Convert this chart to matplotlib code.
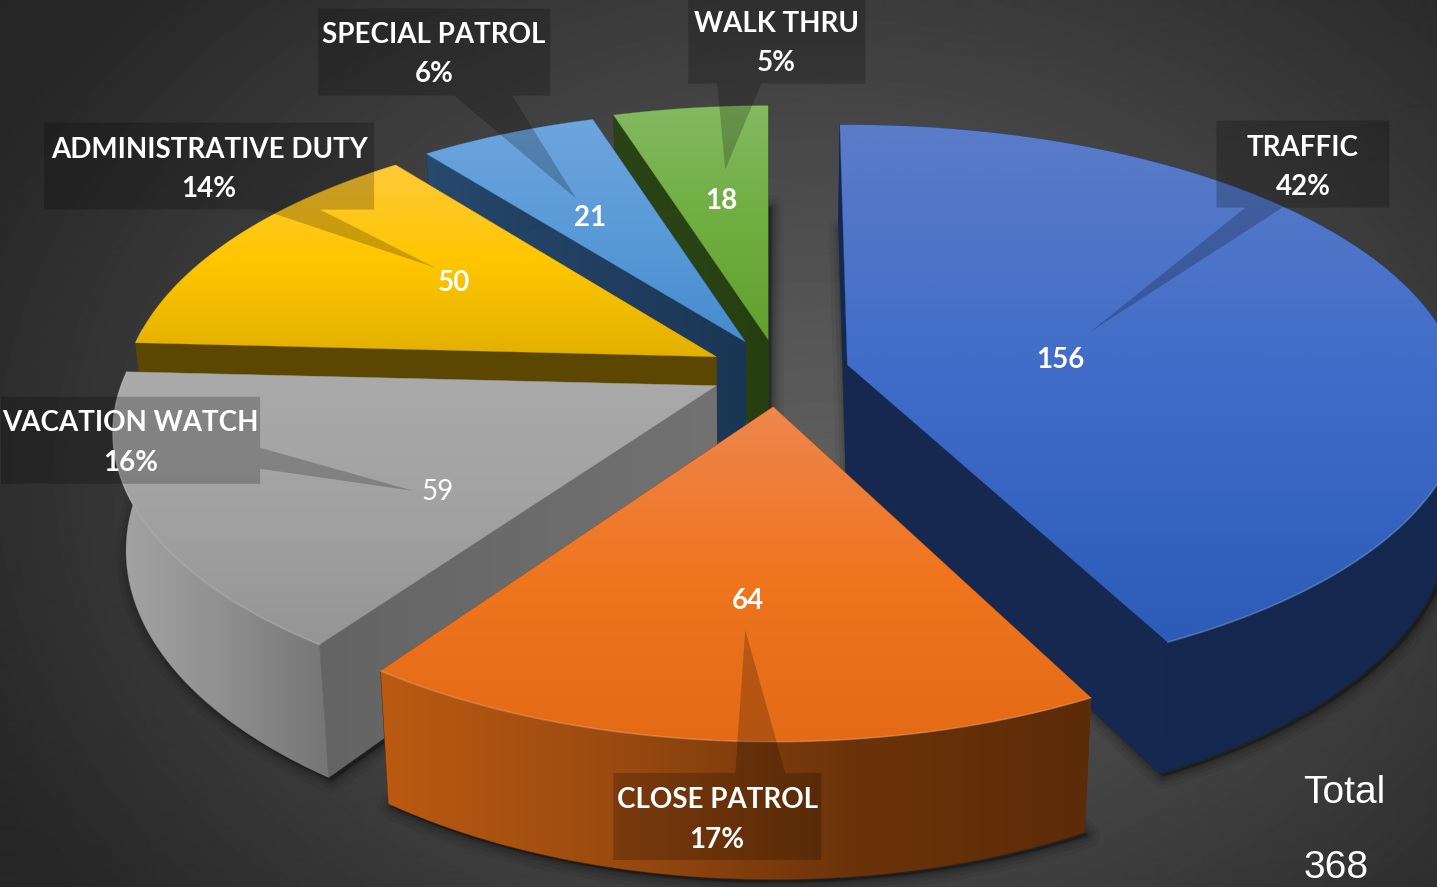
import numpy as np
import matplotlib
matplotlib.use("Agg")
import matplotlib.pyplot as plt
from matplotlib.colors import to_rgb
from matplotlib.patches import Polygon

# ---------- data ----------
categories = ["TRAFFIC", "CLOSE PATROL", "VACATION WATCH",
              "ADMINISTRATIVE DUTY", "SPECIAL PATROL", "WALK THRU"]
values = [156, 64, 59, 50, 21, 18]
percent_labels = ["42%", "17%", "16%", "14%", "6%", "5%"]
total_title = "Total"
total_value = "368"

# ---------- layout / style ----------
W, H = 1437, 887
APEX = [(847, 365), (773, 407), (716, 386), (716, 357), (745, 342), (768, 340)]
RX = [1.03, 0.995, 1.005, 0.99, 0.985, 1.0]
RY = [0.978, 1.0, 0.98, 0.985, 0.965, 0.975]
K = [0.14, 0.165, 0.165, 0.165, 0.165, 0.165]
START_PAD = [0.8, 0, 0, 0, 0, 0]
A, B, DEPTH, VANISH_X, SHRINK = 592.0, 279.6, 115.0, 770.0, 0.98
TOP_GRAD = [["#5b7cc8", "#3f6cc8", "#2c5cb8"], ["#ee874f", "#f0751f", "#e46a16"],
            ["#aaaaaa", "#a2a2a2", "#959595"], ["#ffc93a", "#ffc600", "#e2b000"],
            ["#6ea5dd", "#5a9ad8", "#478ccf"], ["#84b962", "#6fae40", "#62a02f"]]
WALL_GRAD = [["#14294f", "#14284f"], ["#bb5a12", "#9a4a10", "#6b330a", "#5c2b08"],
             ["#a5a5a5", "#909090", "#757575"], ["#5c4700", "#5c4700"],
             ["#284a6e", "#1d3a5b"], ["#2a4317", "#26400f"]]
CUT_GRAD = [["#17294f", "#15284f"], ["#5e2c08", "#5e2c08"], ["#646464", "#727272"],
            ["#5c4700", "#5c4700"], ["#284a6e", "#1a3655"], ["#2d4719", "#253f10"]]
BOXES = [(1216, 121, 1389, 208), (613, 773, 821, 860), (1, 397, 260, 484),
         (44, 123, 374, 210), (318, 9, 550, 96), (688, 0, 865, 84)]
# pointer: the two base points on the box edge, then the tip
POINTERS = [[(1282, 208), (1245, 208), (1090, 332)], [(785, 773), (735, 773), (745, 630)],
            [(260, 448), (260, 469), (413, 491)], [(320, 210), (262, 210), (435, 268)],
            [(512, 96), (454, 96), (576, 199)], [(761, 84), (717, 84), (725, 170)]]
SIDE = ["bottom", "top", "right", "bottom", "bottom", "bottom"]
VALUE_POS = [(1060, 360), (748, 601), (437, 492), (454, 283), (590, 218), (721, 201)]
VALUE_WEIGHT = ["bold", "bold", "normal", "bold", "bold", "bold"]
LINE_Y = [(148, 187), (800, 840), (423, 463), (150, 189), (35, 74), (24, 63)]
FONT = ["Lato", "DejaVu Sans"]
LABEL_SIZE = 20

fig = plt.figure(figsize=((W + 0.5) / 100, (H + 0.5) / 100), dpi=100)
ax = fig.add_axes([0, 0, 1, 1])
ax.set_xlim(0, W)
ax.set_ylim(H, 0)
ax.axis("off")


def ramp(colors, n=256):
    c = np.array([to_rgb(x) for x in colors])
    t = np.linspace(0, 1, n)
    p = np.linspace(0, 1, len(c))
    return np.stack([np.interp(t, p, c[:, i]) for i in range(3)], axis=-1)


def fill_gradient(pts, colors, vertical, z):
    pts = np.asarray(pts)
    x0, y0 = pts.min(axis=0)
    x1, y1 = pts.max(axis=0)
    if x1 - x0 < 0.5 or y1 - y0 < 0.5:
        return
    g = ramp(colors)
    img = g[:, None, :] if vertical else g[None, :, :]
    im = ax.imshow(img, extent=(x0, x1, y1, y0), aspect="auto", zorder=z,
                   interpolation="bilinear")
    im.set_clip_path(Polygon(pts, closed=True, transform=ax.transData))
    ax.add_patch(Polygon(pts, closed=True, fc="none", ec=colors[-1], lw=0.4, zorder=z, alpha=0.6))


# background
yy, xx = np.mgrid[0:H, 0:W]
r = np.sqrt(((xx - 820) / 850) ** 2 + ((yy - 470) / 650) ** 2)
v = np.clip(0x5e - 0x32 * r ** 1.2, 0x26, 255) / 255
ax.imshow(v, cmap="gray", vmin=0, vmax=1, extent=(0, W, H, 0), aspect="auto", zorder=0)
ax.set_xlim(0, W)
ax.set_ylim(H, 0)

# slice geometry from the values
fractions = np.array(values, dtype=float) / sum(values)
edges = np.concatenate([[0], np.cumsum(fractions)]) * 360.0


def project(i, deg):
    t = np.radians(deg)
    X, Y = np.sin(t), np.cos(t)
    w = 1 + K[i] * Y
    sx = APEX[i][0] + RX[i] * A * X / w
    sy = APEX[i][1] - RY[i] * B * Y / w
    return np.column_stack([sx, sy]), w


def drop(i, pts, w):
    out = np.array(pts, dtype=float)
    out[:, 0] = VANISH_X + (out[:, 0] - VANISH_X) * SHRINK
    out[:, 1] = out[:, 1] + DEPTH / w
    return out


geom = []
for i in range(len(values)):
    th = np.linspace(edges[i] - START_PAD[i], edges[i + 1], 90)
    arc, w = project(i, th)
    arc_b = drop(i, arc, w)
    apex = np.array([APEX[i]], dtype=float)
    apex_b = drop(i, apex, np.ones(1))
    geom.append((arc, arc_b, apex, apex_b, np.cos(np.radians(th))))

# soft shadows under the lower face
for i, (arc, arc_b, apex, apex_b, _) in enumerate(geom):
    base = np.vstack([apex_b, arc_b]) + np.array([3, 3])
    for lw, al in ((18, 0.05), (12, 0.07), (7, 0.09), (3, 0.12)):
        ax.add_patch(Polygon(base, closed=True, fc="black", ec="black", lw=lw,
                             alpha=al, joinstyle="round", zorder=1))

# painter's order: far slices first
order = [5, 4, 3, 2, 0, 1]
for n, i in enumerate(order):
    arc, arc_b, apex, apex_b, cosine = geom[i]
    z = 2 + n
    end_face = np.vstack([apex, arc[-1:], arc_b[-1:], apex_b])
    start_face = np.vstack([apex, arc[:1], arc_b[:1], apex_b])
    faces = (end_face, start_face) if i != 0 else (start_face, end_face)
    for f in faces:
        fill_gradient(f, CUT_GRAD[i], False, z)
    wall = np.vstack([arc, arc_b[::-1]])
    fill_gradient(wall, WALL_GRAD[i], False, z + 0.1)
    top = np.vstack([apex, arc])
    fill_gradient(top, TOP_GRAD[i], True, z + 0.2)
    near = cosine < 0.1
    if near.any():
        ax.plot(arc[near, 0], arc[near, 1], color="white", alpha=0.2, lw=1.2,
                zorder=z + 0.3, solid_capstyle="round")

# callouts with pointers (one single shape, so the tint stays even)
for i, cat in enumerate(categories):
    x0, y0, x1, y1 = BOXES[i]
    a, b, tip = POINTERS[i]
    if SIDE[i] == "bottom":
        pts = [(x0, y0), (x1, y0), (x1, y1), a, tip, b, (x0, y1)]
    elif SIDE[i] == "top":
        pts = [(x0, y0), b, tip, a, (x1, y0), (x1, y1), (x0, y1)]
    else:
        pts = [(x0, y0), (x1, y0), a, tip, b, (x1, y1), (x0, y1)]
    ax.add_patch(Polygon(pts, closed=True, fc="black", ec="none", alpha=0.21, zorder=20))
    cx = (x0 + x1) / 2
    ax.text(cx, LINE_Y[i][0], cat, color="white", fontsize=LABEL_SIZE, fontweight="bold",
            family=FONT, ha="center", va="center", zorder=21)
    ax.text(cx, LINE_Y[i][1], percent_labels[i], color="white", fontsize=LABEL_SIZE,
            fontweight="bold", family=FONT, ha="center", va="center", zorder=21)
    ax.text(VALUE_POS[i][0], VALUE_POS[i][1], str(values[i]), color="white",
            fontsize=LABEL_SIZE, fontweight=VALUE_WEIGHT[i], family=FONT,
            ha="center", va="center", zorder=21)

ax.text(1303, 793, total_title, color="white", fontsize=28, family="Liberation Sans",
        ha="left", va="center", zorder=21)
ax.text(1303, 868, total_value, color="white", fontsize=28, family="Liberation Sans",
        ha="left", va="center", zorder=21)

fig.savefig("out.png", dpi=100)
